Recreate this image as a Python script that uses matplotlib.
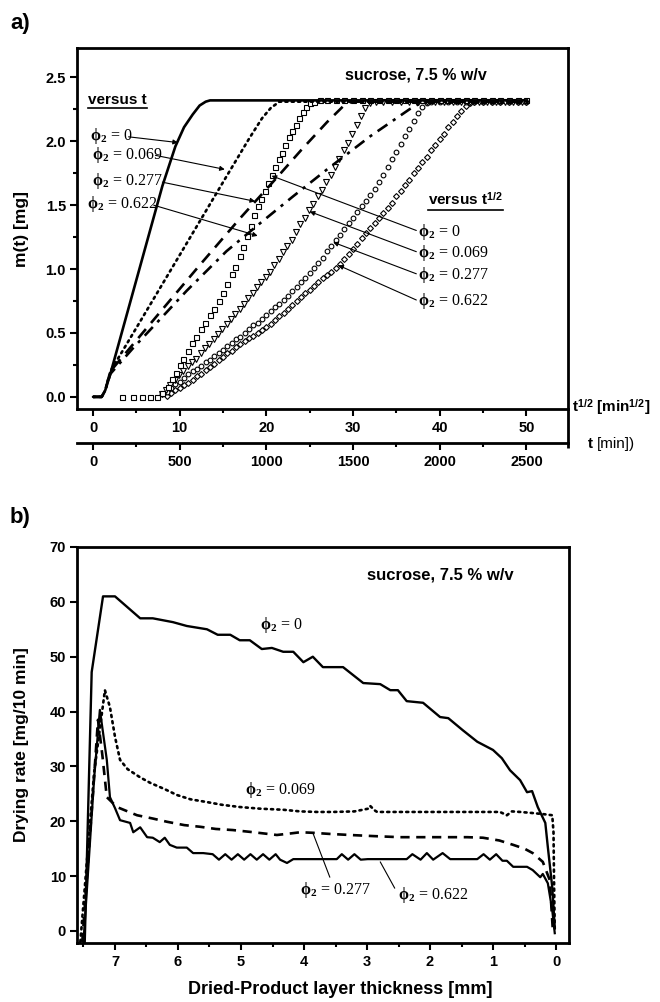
import matplotlib
matplotlib.use("Agg")
import matplotlib.pyplot as plt
from matplotlib.ticker import MultipleLocator, FormatStrFormatter
from matplotlib.lines import Line2D

# ==================================================
# Fonts
# ==================================================
plt.rcParams['font.family'] = ['Liberation Sans', 'DejaVu Sans']
plt.rcParams['font.weight'] = 'bold'
plt.rcParams['mathtext.fontset'] = 'custom'
plt.rcParams['mathtext.rm'] = 'Liberation Serif'
plt.rcParams['mathtext.it'] = 'Liberation Serif:italic'
plt.rcParams['mathtext.bf'] = 'Liberation Sans:bold'

# ==================================================
# Data panel a: m(t) versus t  (t in min)
# ==================================================
phi_labels = ["0", "0.069", "0.277", "0.622"]

t_phi0 = [0, 50, 70, 100, 200, 300, 400, 475, 525, 575, 615, 650, 675, 2510]
m_phi0 = [0, 0, 0.05, 0.18, 0.67, 1.16, 1.65, 1.96, 2.11, 2.21, 2.28, 2.31, 2.32, 2.32]

t_phi1 = [0, 50, 70, 100, 250, 500, 750, 900, 975, 1025, 1075, 2510]
m_phi1 = [0, 0, 0.05, 0.20, 0.54, 1.11, 1.68, 2.02, 2.18, 2.26, 2.31, 2.31]

t_phi2 = [0, 50, 70, 100, 385, 615, 850, 1050, 1200, 1350, 1440, 1490, 2510]
m_phi2 = [0, 0, 0.05, 0.20, 0.66, 1.03, 1.40, 1.70, 1.93, 2.15, 2.27, 2.31, 2.31]

t_phi3 = [0, 50, 70, 100, 230, 540, 770, 965, 1155, 1350, 1600, 1825, 1890, 1940, 2510]
m_phi3 = [0, 0, 0.05, 0.18, 0.38, 0.83, 1.14, 1.36, 1.57, 1.78, 2.04, 2.25, 2.30, 2.31, 2.31]

# ==================================================
# Data panel a: m(t) versus t^1/2  (markers)
# ==================================================
sq_x = [3.3, 4.6, 5.7, 6.6, 7.4, 8.0, 8.6, 9.1, 9.6, 10.0, 10.4, 10.9, 11.4, 11.9, 12.4,
        12.9, 13.5, 14.0, 14.5, 15.0, 15.5, 16.0, 16.4, 16.9, 17.3, 17.8, 18.2, 18.6, 19.0,
        19.4, 19.8, 20.2, 20.6, 21.0, 21.4, 21.8, 22.2, 22.6, 23.0, 23.4, 23.8, 24.2, 24.6,
        25.0, 25.5, 26.2, 27.0, 28.0, 29.0, 30.0, 31.0, 32.0, 33.0, 34.0, 35.0, 36.0, 37.0,
        38.0, 39.0, 40.0, 41.0, 42.0, 43.0, 44.0, 45.0, 46.0, 47.0, 48.0, 49.0, 50.0]
sq_y = [0, 0, 0, 0, 0, 0.03, 0.08, 0.14, 0.19, 0.25, 0.30, 0.36, 0.42, 0.47, 0.53,
        0.58, 0.64, 0.69, 0.75, 0.81, 0.88, 0.96, 1.02, 1.10, 1.17, 1.26, 1.34, 1.42, 1.49,
        1.55, 1.61, 1.67, 1.74, 1.80, 1.86, 1.91, 1.97, 2.03, 2.08, 2.13, 2.18, 2.23, 2.27,
        2.30, 2.31, 2.32, 2.32, 2.32, 2.32, 2.32, 2.32, 2.32, 2.32, 2.32, 2.32, 2.32, 2.32,
        2.32, 2.32, 2.32, 2.32, 2.32, 2.32, 2.32, 2.32, 2.32, 2.32, 2.32, 2.32, 2.32]

tri_x = [7.9, 8.4, 8.9, 9.4, 9.9, 10.4, 10.9, 11.4, 11.9, 12.4, 12.9, 13.4, 13.9, 14.4,
         14.9, 15.4, 15.9, 16.4, 16.9, 17.4, 17.9, 18.4, 18.9, 19.4, 19.9, 20.4, 20.9, 21.4,
         21.9, 22.4, 22.9, 23.4, 23.9, 24.4, 24.9, 25.4, 25.9, 26.4, 26.9, 27.4, 27.9, 28.4,
         28.9, 29.4, 29.9, 30.4, 30.9, 31.4, 31.9, 32.6, 33.5, 34.5, 35.5, 36.5, 37.5, 38.5,
         39.5, 40.5, 41.5, 42.5, 43.5, 44.5, 45.5, 46.5, 47.5, 48.5, 49.5]
tri_y = [0.02, 0.05, 0.09, 0.13, 0.17, 0.20, 0.24, 0.27, 0.30, 0.34, 0.38, 0.41, 0.45, 0.49,
         0.53, 0.57, 0.61, 0.65, 0.69, 0.73, 0.77, 0.81, 0.86, 0.90, 0.94, 0.98, 1.03, 1.08,
         1.13, 1.18, 1.23, 1.29, 1.35, 1.40, 1.46, 1.51, 1.57, 1.62, 1.68, 1.74, 1.80, 1.86,
         1.93, 1.99, 2.06, 2.13, 2.20, 2.26, 2.30, 2.31, 2.31, 2.31, 2.31, 2.31, 2.31, 2.31,
         2.31, 2.31, 2.31, 2.31, 2.31, 2.31, 2.31, 2.31, 2.31, 2.31, 2.31]

cir_x = [8.0, 8.5, 9.0, 9.5, 10.0, 10.5, 11.0, 11.5, 12.0, 12.5, 13.0, 13.5, 14.0, 14.5,
         15.0, 15.5, 16.0, 16.5, 17.0, 17.5, 18.0, 18.5, 19.0, 19.5, 20.0, 20.5, 21.0, 21.5,
         22.0, 22.5, 23.0, 23.5, 24.0, 24.5, 25.0, 25.5, 26.0, 26.5, 27.0, 27.5, 28.0, 28.5,
         29.0, 29.5, 30.0, 30.5, 31.0, 31.5, 32.0, 32.5, 33.0, 33.5, 34.0, 34.5, 35.0, 35.5,
         36.0, 36.5, 37.0, 37.5, 38.0, 38.5, 39.0, 40.0, 41.0, 42.0, 43.0, 44.0, 45.0, 46.0,
         47.0, 48.0, 49.0, 50.0]
cir_y = [0.02, 0.04, 0.07, 0.10, 0.12, 0.15, 0.18, 0.20, 0.22, 0.24, 0.27, 0.29, 0.32, 0.34,
         0.37, 0.40, 0.42, 0.45, 0.47, 0.50, 0.53, 0.56, 0.58, 0.61, 0.64, 0.67, 0.70, 0.73,
         0.76, 0.79, 0.83, 0.86, 0.90, 0.93, 0.97, 1.01, 1.05, 1.09, 1.14, 1.18, 1.23, 1.27,
         1.31, 1.36, 1.40, 1.45, 1.49, 1.53, 1.58, 1.63, 1.68, 1.74, 1.80, 1.86, 1.92, 1.98,
         2.04, 2.10, 2.16, 2.22, 2.27, 2.30, 2.31, 2.31, 2.31, 2.31, 2.31, 2.31, 2.31, 2.31,
         2.31, 2.31, 2.31, 2.31]

dia_x = [8.5, 9.0, 9.5, 10.0, 10.5, 11.0, 11.5, 12.0, 12.5, 13.0, 13.5, 14.0, 14.5, 15.0,
         15.5, 16.0, 16.5, 17.0, 17.5, 18.0, 18.5, 19.0, 19.5, 20.0, 20.5, 21.0, 21.5, 22.0,
         22.5, 23.0, 23.5, 24.0, 24.5, 25.0, 25.5, 26.0, 26.5, 27.0, 27.5, 28.0, 28.5, 29.0,
         29.5, 30.0, 30.5, 31.0, 31.5, 32.0, 32.5, 33.0, 33.5, 34.0, 34.5, 35.0, 35.5, 36.0,
         36.5, 37.0, 37.5, 38.0, 38.5, 39.0, 39.5, 40.0, 40.5, 41.0, 41.5, 42.0, 42.5, 43.0,
         43.5, 44.0, 45.0, 46.0, 47.0, 48.0, 49.0, 50.0]
dia_y = [0.01, 0.03, 0.05, 0.07, 0.09, 0.11, 0.13, 0.16, 0.18, 0.21, 0.23, 0.26, 0.29, 0.31,
         0.34, 0.36, 0.39, 0.41, 0.44, 0.46, 0.48, 0.50, 0.52, 0.55, 0.57, 0.60, 0.63, 0.66,
         0.69, 0.72, 0.75, 0.78, 0.81, 0.84, 0.87, 0.90, 0.93, 0.95, 0.98, 1.01, 1.04, 1.08,
         1.12, 1.16, 1.20, 1.24, 1.28, 1.32, 1.36, 1.40, 1.44, 1.48, 1.52, 1.57, 1.61, 1.66,
         1.70, 1.75, 1.79, 1.84, 1.88, 1.93, 1.97, 2.02, 2.06, 2.11, 2.15, 2.20, 2.24, 2.28,
         2.30, 2.31, 2.31, 2.31, 2.31, 2.31, 2.31, 2.31]

# ==================================================
# Data panel b: drying rate versus dried layer thickness
# ==================================================
b0_x = [7.48, 7.37, 7.19, 7.00, 6.60, 6.40, 6.08, 5.86, 5.54, 5.37, 5.17, 5.02, 4.86, 4.67,
        4.51, 4.33, 4.17, 4.01, 3.86, 3.70, 3.38, 3.06, 2.79, 2.63, 2.51, 2.37, 2.11, 1.84,
        1.71, 1.48, 1.25, 1.00, 0.86, 0.73, 0.57, 0.46, 0.38, 0.29, 0.17, 0.13, 0.06, 0.02]
b0_y = [-2, 47.2, 61.0, 61.0, 57.0, 57.0, 56.3, 55.6, 55.0, 54.0, 54.0, 53.0, 53.0, 51.4,
        51.6, 50.9, 50.9, 49.0, 50.0, 48.1, 48.1, 45.2, 45.0, 43.9, 43.9, 41.9, 41.6, 39.0,
        38.8, 36.6, 34.5, 33.0, 31.5, 29.3, 27.5, 25.3, 25.5, 22.6, 19.7, 15.3, 8.0, 0.7]

b1_x = [7.55, 7.33, 7.16, 7.08, 7.00, 6.92, 6.80, 6.60, 6.44, 6.20, 6.02, 5.80, 5.54, 5.30,
        5.02, 4.70, 4.33, 4.06, 3.79, 3.54, 3.20, 2.98, 2.95, 2.88, 2.84, 2.50, 1.95, 1.50,
        1.20, 0.89, 0.78, 0.70, 0.57, 0.37, 0.20, 0.06, 0.04, 0.03, 0.02]
b1_y = [-2, 29.0, 43.9, 40.8, 35.4, 31.2, 29.5, 28.0, 27.0, 25.8, 24.8, 24.0, 23.5, 23.0,
        22.6, 22.3, 22.1, 21.8, 21.7, 21.7, 21.8, 22.3, 22.8, 22.0, 21.7, 21.7, 21.7, 21.7,
        21.7, 21.7, 21.1, 21.8, 21.7, 21.5, 21.3, 21.1, 18.0, 8.0, 0]

b2_x = [7.52, 7.35, 7.27, 7.20, 7.13, 6.97, 6.65, 6.40, 6.17, 5.90, 5.65, 5.40, 5.13, 4.80,
        4.43, 4.20, 4.06, 3.86, 3.60, 3.27, 2.90, 2.48, 1.95, 1.41, 1.16, 0.90, 0.68, 0.50,
        0.37, 0.21, 0.10, 0.05]
b2_y = [-2, 25.0, 38.5, 32.0, 24.4, 22.6, 21.1, 20.5, 19.9, 19.3, 19.0, 18.6, 18.4, 18.0,
        17.5, 17.8, 18.0, 17.9, 17.7, 17.5, 17.3, 17.1, 17.1, 17.1, 17.0, 16.5, 15.7, 15.0,
        14.2, 12.6, 9.3, 0]

b3_x = [7.50, 7.33, 7.24, 7.13, 7.08, 7.00, 6.92, 6.76, 6.71, 6.60, 6.49, 6.40, 6.29, 6.21,
        6.13, 6.02, 5.86, 5.76, 5.60, 5.45, 5.35, 5.25, 5.15, 5.05, 4.95, 4.85, 4.75, 4.65,
        4.55, 4.45, 4.38, 4.27, 4.17, 3.48, 3.40, 3.30, 3.20, 3.10, 2.99, 2.37, 2.28, 2.15,
        2.05, 1.95, 1.80, 1.68, 1.25, 1.15, 1.05, 0.95, 0.85, 0.78, 0.68, 0.46, 0.37, 0.25,
        0.21, 0.13, 0.06, 0.02]
b3_y = [-2, 28.0, 40.3, 31.2, 24.4, 22.4, 20.2, 19.7, 18.0, 18.9, 17.1, 17.0, 16.2, 17.0,
        15.7, 15.2, 15.2, 14.2, 14.2, 14.0, 13.0, 14.0, 13.0, 14.0, 13.0, 14.0, 13.0, 14.0,
        13.0, 14.0, 13.0, 12.4, 13.1, 13.1, 14.0, 13.0, 14.0, 13.0, 13.1, 13.1, 14.0, 13.0,
        14.2, 13.0, 14.2, 13.1, 13.1, 14.0, 13.0, 14.0, 12.8, 12.8, 11.7, 11.7, 11.1, 9.8,
        10.4, 8.7, 3.8, -0.4]

# ==================================================
# Figure layout (pixel based, 660 x 1002)
# ==================================================
W, H = 660, 1002
fig = plt.figure(figsize=(W / 100, H / 100), dpi=100)


def px_axes(left, top, right, bottom):
    return fig.add_axes([left / W, 1 - bottom / H, (right - left) / W, (bottom - top) / H])


ax_a = px_axes(77, 48, 568, 409)
ax_b = px_axes(77, 547, 569, 943)

SPINE_W = 2.0
TICK_FS = 10.5
t_per_unit = 50   # 500 min sits under t^1/2 = 10


def style_axes(ax):
    for side in ['top', 'right', 'left', 'bottom']:
        ax.spines[side].set_linewidth(SPINE_W)
    ax.tick_params(which='major', direction='out', length=5, width=1.5,
                   labelsize=TICK_FS, pad=3)
    ax.tick_params(which='minor', direction='out', length=3, width=1.5)
    ax.tick_params(top=False, right=False, which='both')


# ==================================================
# Panel a
# ==================================================
xa_lim = (-1.85, 54.8)
ax_a.set_xlim(*xa_lim)
ax_a.set_ylim(-0.095, 2.73)
style_axes(ax_a)
ax_a.xaxis.set_major_locator(MultipleLocator(10))
ax_a.xaxis.set_minor_locator(MultipleLocator(5))
ax_a.yaxis.set_major_locator(MultipleLocator(0.5))
ax_a.yaxis.set_minor_locator(MultipleLocator(0.25))
ax_a.yaxis.set_major_formatter(FormatStrFormatter('%.1f'))
ax_a.tick_params(axis='x', pad=4)

mk = dict(linestyle='none', markerfacecolor='white', markeredgecolor='k',
          markeredgewidth=0.8, clip_on=False)
ax_a.plot(dia_x, dia_y, marker='D', markersize=3.0, **mk)
ax_a.plot(cir_x, cir_y, marker='o', markersize=3.4, **mk)
ax_a.plot(tri_x, tri_y, marker='v', markersize=3.8, **mk)
ax_a.plot(sq_x, sq_y, marker='s', markersize=3.6, **mk)

# second x axis in minutes, drawn below the first
ax_t = ax_a.twiny()
ax_t.set_xlim(xa_lim[0] * t_per_unit, xa_lim[1] * t_per_unit)
ax_t.patch.set_visible(False)
for side in ['top', 'left', 'right']:
    ax_t.spines[side].set_visible(False)
ax_t.spines['bottom'].set_visible(True)
ax_t.spines['bottom'].set_linewidth(SPINE_W)
ax_t.spines['bottom'].set_position(('axes', -0.094))
ax_t.xaxis.set_ticks_position('bottom')
ax_t.xaxis.set_major_locator(MultipleLocator(500))
ax_t.xaxis.set_minor_locator(MultipleLocator(250))
ax_t.tick_params(which='major', direction='out', length=5, width=1.5,
                 labelsize=TICK_FS, pad=4)
ax_t.tick_params(which='minor', direction='out', length=3, width=1.5)
ax_t.tick_params(axis='y', left=False, right=False, labelleft=False, labelright=False)

lw = 1.9
ax_t.plot(t_phi0, m_phi0, color='k', lw=lw, solid_capstyle='butt')
ax_t.plot(t_phi1, m_phi1, color='k', lw=lw, linestyle=(0, (0.8, 1.6)), dash_capstyle='round')
ax_t.plot(t_phi2, m_phi2, color='k', lw=lw, linestyle=(0, (4.5, 3)))
ax_t.plot(t_phi3, m_phi3, color='k', lw=lw, linestyle=(0, (4.5, 2.5, 1.2, 2.5)))

# right spine continues down to the minute axis
ax_a.plot([1, 1], [-0.107, 0], transform=ax_a.transAxes, color='k',
          lw=SPINE_W, clip_on=False, solid_capstyle='butt')

# annotations panel a
serif = dict(family=['Liberation Serif', 'DejaVu Serif'], fontweight='normal', fontsize=11.5)
arr = dict(arrowstyle='-|>', color='k', lw=0.8, mutation_scale=7, shrinkA=0, shrinkB=0)

ax_a.text(37.25, 2.52, 'sucrose, 7.5 % w/v', ha='center', va='center', fontsize=11.5)
txt_vt = ax_a.text(-0.58, 2.32, 'versus t', ha='left', va='center', fontsize=11)
txt_vs = ax_a.text(38.6, 1.54, r'versus t$^{\mathbf{1/2}}$', ha='left', va='center', fontsize=11)

left_pos = [(-0.35, 2.01), (-0.12, 1.865), (-0.12, 1.655), (-0.69, 1.475)]
left_tail = [(4.1, 2.035), (7.2, 1.89), (8.0, 1.68), (7.0, 1.50)]
left_head = [(9.8, 1.99), (15.2, 1.78), (18.7, 1.53), (19.0, 1.26)]
right_pos = [(37.5, 1.262), (37.5, 1.096), (37.5, 0.923), (37.5, 0.718)]
right_head = [(20.6, 1.73), (25.0, 1.45), (27.7, 1.21), (28.3, 1.03)]

for lab, p, tl, hd in zip(phi_labels, left_pos, left_tail, left_head):
    ax_a.text(p[0], p[1], r'$\mathrm{\phi}_2$ = ' + lab, ha='left', va='baseline',
              **serif)
    ax_a.annotate('', xy=hd, xytext=tl, arrowprops=arr)
for lab, p, hd in zip(phi_labels, right_pos, right_head):
    ax_a.text(p[0], p[1], r'$\mathrm{\phi}_2$ = ' + lab, ha='left', va='baseline',
              **serif)
    ax_a.annotate('', xy=hd, xytext=(p[0] - 0.2, p[1] + 0.04), arrowprops=arr)

fig.text(22 / W, 1 - 229 / H, 'm(t) [mg]', rotation=90, ha='center', va='center', fontsize=12.5)
fig.text(572 / W, 1 - 408 / H, r't$^{\mathbf{1/2}}$ [min$^{\mathbf{1/2}}$]', ha='left',
         va='center', fontsize=11)
fig.text(588 / W, 1 - 444 / H, 't', ha='left', va='center', fontsize=11)
fig.text(597 / W, 1 - 444 / H, '[min])', ha='left', va='center', fontsize=11,
         fontweight='normal')
fig.text(10 / W, 1 - 23 / H, 'a)', ha='left', va='center', fontsize=16)

# ==================================================
# Panel b
# ==================================================
ax_b.set_xlim(7.603, -0.206)
ax_b.set_ylim(-2.19, 70.0)
style_axes(ax_b)
ax_b.xaxis.set_major_locator(MultipleLocator(1))
ax_b.xaxis.set_minor_locator(MultipleLocator(0.5))
ax_b.yaxis.set_major_locator(MultipleLocator(10))
ax_b.tick_params(axis='x', pad=4)

ax_b.plot(b3_x, b3_y, color='k', lw=1.6)
ax_b.plot(b2_x, b2_y, color='k', lw=1.9, linestyle=(0, (3.5, 2.5)))
ax_b.plot(b1_x, b1_y, color='k', lw=1.9, linestyle=(0, (0.8, 1.6)), dash_capstyle='round')
ax_b.plot(b0_x, b0_y, color='k', lw=1.7)

ax_b.text(1.84, 64.9, 'sucrose, 7.5 % w/v', ha='center', va='center', fontsize=12)
ax_b.text(4.70, 55.8, r'$\mathrm{\phi}_2$ = 0', ha='left', va='center', **serif)
ax_b.text(4.94, 25.7, r'$\mathrm{\phi}_2$ = 0.069', ha='left', va='center', **serif)
ax_b.text(4.06, 7.5, r'$\mathrm{\phi}_2$ = 0.277', ha='left', va='center', **serif)
ax_b.text(2.51, 6.6, r'$\mathrm{\phi}_2$ = 0.622', ha='left', va='center', **serif)
line_arr = dict(arrowstyle='-', color='k', lw=0.8, shrinkA=0, shrinkB=0)
ax_b.annotate('', xy=(3.86, 17.9), xytext=(3.59, 9.8), arrowprops=line_arr)
ax_b.annotate('', xy=(2.79, 12.6), xytext=(2.56, 7.8), arrowprops=line_arr)

fig.text(22 / W, 1 - 745 / H, 'Drying rate [mg/10 min]', rotation=90, ha='center',
         va='center', fontsize=12.5)
fig.text(340 / W, 1 - 990 / H, 'Dried-Product layer thickness [mm]', ha='center',
         va='center', fontsize=13)
fig.text(10 / W, 1 - 518 / H, 'b)', ha='left', va='center', fontsize=16)

# ==================================================
# Underline the "versus" captions
# ==================================================
fig.canvas.draw()
renderer = fig.canvas.get_renderer()
for t in [txt_vt, txt_vs]:
    bb = t.get_window_extent(renderer)
    fig.add_artist(Line2D([bb.x0, bb.x1], [bb.y0 - 1, bb.y0 - 1], transform=None,
                          color='k', lw=1.2))

fig.savefig("out.png", dpi=100)
